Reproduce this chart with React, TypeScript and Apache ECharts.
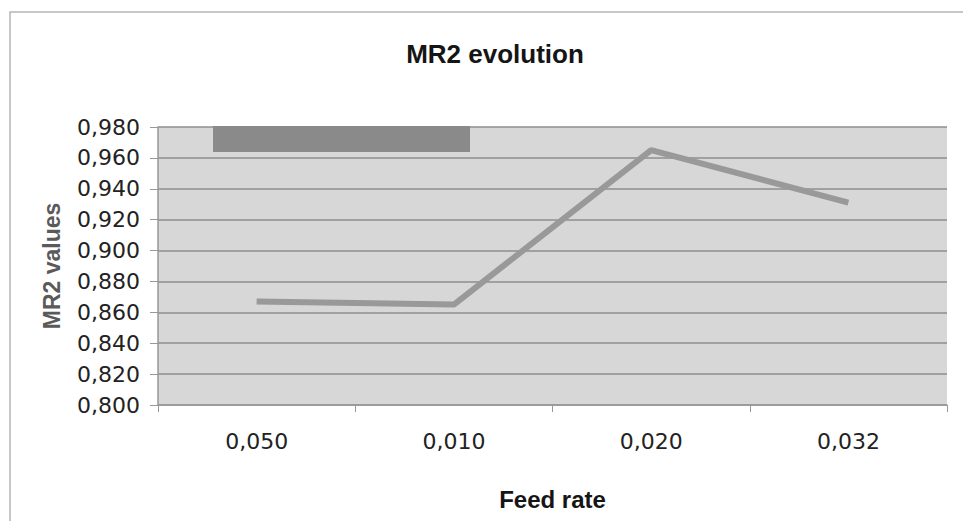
import React, { useEffect, useRef } from "react";
import * as echarts from "echarts";

const categories = ["0,050", "0,010", "0,020", "0,032"];
const mr2Values = [0.867, 0.865, 0.965, 0.931];
const yMin = 0.8;
const yMax = 0.98;
const yStep = 0.02;

export default function App() {
  const ref = useRef<HTMLDivElement>(null);
  useEffect(() => {
    if (!ref.current) return;
    const chart = echarts.init(ref.current, null, { renderer: "svg" });
    const arial = "Arial, 'Liberation Sans', sans-serif";
    const wide = "'DejaVu Sans', sans-serif";
    chart.setOption({
      animation: false,
      backgroundColor: "#ffffff",
      title: {
        text: "MR2 evolution",
        left: 490,
        top: 36,
        textAlign: "center",
        textStyle: { fontFamily: arial, fontSize: 26, fontWeight: "bold", color: "#151515" },
      },
      grid: { left: 158, right: 16, top: 127, bottom: 116, show: true, backgroundColor: "#d7d7d7", borderWidth: 0 },
      xAxis: {
        type: "category",
        data: categories,
        boundaryGap: true,
        name: "Feed rate",
        nameLocation: "middle",
        nameGap: 82,
        nameTextStyle: { fontFamily: arial, fontSize: 24, fontWeight: "bold", color: "#151515" },
        axisLine: { lineStyle: { color: "#999", width: 1.5 } },
        axisTick: { show: true, length: 7, lineStyle: { color: "#999" } },
        axisLabel: { fontFamily: wide, fontSize: 22, color: "#222", margin: 25 },
      },
      yAxis: {
        type: "value",
        min: yMin,
        max: yMax,
        interval: yStep,
        name: "MR2 values",
        nameLocation: "middle",
        nameGap: 95,
        nameTextStyle: { fontFamily: arial, fontSize: 23, fontWeight: "bold", color: "#5a5a5a" },
        axisLine: { show: true, lineStyle: { color: "#999", width: 1.5 } },
        axisTick: { show: true, length: 8, lineStyle: { color: "#999" } },
        axisLabel: {
          fontFamily: wide,
          fontSize: 22,
          color: "#222",
          margin: 18,
          formatter: (v: number) => v.toFixed(3).replace(".", ","),
        },
        splitLine: { show: true, lineStyle: { color: "#8e8e8e", width: 1.5 } },
      },
      series: [
        {
          type: "line",
          data: mr2Values,
          symbol: "none",
          lineStyle: { color: "#999999", width: 6 },
        },
      ],
      graphic: [
        {
          type: "rect",
          shape: { x: 10, y: 12, width: 960, height: 520 },
          style: { fill: "none", stroke: "#b5b5b5", lineWidth: 1.5 },
          silent: true,
        },
        {
          type: "rect",
          shape: { x: 213, y: 126, width: 257, height: 26 },
          style: { fill: "#8a8a8a" },
          z: 100,
        },
      ],
    });
    return () => chart.dispose();
  }, []);
  return <div ref={ref} style={{ position: "fixed", left: 0, top: 0, width: 963, height: 521 }} />;
}
